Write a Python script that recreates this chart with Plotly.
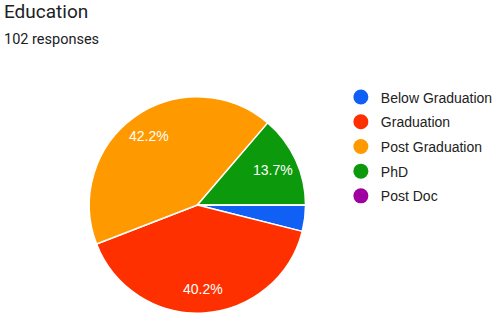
import math
import plotly.graph_objects as go

categories = ["Below Graduation", "Graduation", "Post Graduation", "PhD", "Post Doc"]
counts = [4, 41, 43, 14, 0]
slice_labels = ["", "40.2%", "42.2%", "13.7%", ""]
colors = ["#1160f5", "#ff3000", "#ff9900", "#0c9a0c", "#a000a0"]

W, H = 498, 322
dom_x = [0.1807, 0.6185]
dom_y = [0.0248, 0.7019]

fig = go.Figure()
fig.add_trace(go.Pie(
    labels=categories, values=counts, textinfo="none",
    sort=False, direction="clockwise", rotation=90,
    marker=dict(colors=colors, line=dict(color="white", width=1.5)),
    showlegend=False, hoverinfo="label+percent",
    domain=dict(x=dom_x, y=dom_y),
))

# slice labels placed along each slice's mid-angle (computed from the data)
total = sum(counts)
cx = (dom_x[0] + dom_x[1]) / 2
cy = (dom_y[0] + dom_y[1]) / 2
rad_px = min((dom_x[1] - dom_x[0]) * W, (dom_y[1] - dom_y[0]) * H) / 2
frac = 0.77
start = 0.0
for v, lab in zip(counts, slice_labels):
    mid = (start + v / 2) / total * 2 * math.pi
    start += v
    if not lab:
        continue
    fig.add_annotation(
        text=lab, showarrow=False, xref="paper", yref="paper",
        xanchor="center", yanchor="middle",
        x=cx + rad_px * frac * math.cos(mid) / W,
        y=cy - rad_px * frac * math.sin(mid) / H,
        font=dict(color="white", size=14, family="Liberation Sans, Arial"),
    )

for i, (c, col) in enumerate(zip(categories, colors)):
    fig.add_trace(go.Scatter(
        x=[None], y=[None], mode="markers", name=c, legendgroup=str(i),
        marker=dict(symbol="circle", size=15, color=col),
    ))

fig.add_annotation(text="Education", x=0, y=1, xref="paper", yref="paper",
                   xanchor="left", yanchor="top", xshift=2, yshift=2, showarrow=False,
                   font=dict(family="Roboto", size=19, color="#202124"))
fig.add_annotation(text="102 responses", x=0, y=1, xref="paper", yref="paper",
                   xanchor="left", yanchor="top", xshift=2, yshift=-29, showarrow=False,
                   font=dict(family="Roboto", size=14.5, color="#202124"))

fig.update_layout(
    width=W, height=H, margin=dict(l=0, r=0, t=0, b=0),
    paper_bgcolor="white", plot_bgcolor="white",
    xaxis=dict(visible=False), yaxis=dict(visible=False),
    legend=dict(x=0.69, y=0.747, xanchor="left", yanchor="top",
                font=dict(family="Liberation Sans, Arial", size=14, color="#222"),
                tracegroupgap=3.5, itemclick=False),
)
fig.write_html("out.html", config={"displayModeBar": False},
               post_script="document.body.style.margin='0';")
